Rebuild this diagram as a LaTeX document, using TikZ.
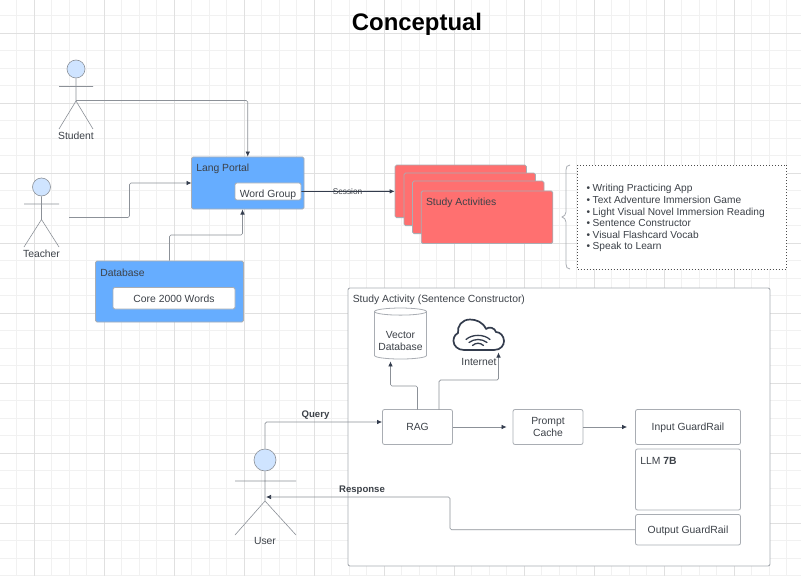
\documentclass[tikz,border=0pt]{standalone}
\usepackage{fontspec}
\setmainfont{Liberation Sans}
\usepackage{tikz}
\usetikzlibrary{arrows.meta,positioning,shapes.geometric}
\definecolor{gridminor}{HTML}{F1F1F1}
\definecolor{gridmajor}{HTML}{E0E0E0}
\definecolor{boxline}{HTML}{A9ADB3}
\definecolor{inkline}{HTML}{8C9198}
\definecolor{tipdark}{HTML}{333C4D}
\definecolor{txt}{HTML}{3C4148}
\definecolor{portalblue}{HTML}{66ADFF}
\definecolor{cardred}{HTML}{FF7070}
\definecolor{headblue}{HTML}{CFE4FF}
\newcommand{\actitem}[1]{\makebox[6bp][l]{\textbullet}#1}

\begin{document}
\begin{tikzpicture}[
  x=1bp, y=-1bp,
  every node/.style={font=\fontsize{10.4}{12}\selectfont, text=txt},
  title/.style={anchor=west, inner sep=0pt, xshift=5bp, yshift=-12.5bp},
  bluebox/.style={draw=boxline, rounded corners=1.5bp, fill=portalblue, line width=0.8bp},
  whitebox/.style={draw=boxline, rounded corners=2bp, fill=white, line width=0.8bp, align=center, inner sep=0pt},
  card/.style={draw=boxline, rounded corners=1.5bp, fill=cardred, line width=0.8bp, minimum width=131.5bp, minimum height=52.5bp},
  stepbox/.style={whitebox, minimum width=70bp, minimum height=35bp},
  railbox/.style={whitebox, minimum width=105bp, text depth=0pt},
  head/.style={circle, draw=inkline, fill=headblue, line width=0.6bp, inner sep=0pt},
  actor/.style={draw=inkline, line width=0.6bp},
  link/.style={draw=inkline, line width=0.7bp, rounded corners=1.5bp, -{Latex[length=5bp,width=4.5bp,color=tipdark]}}
]
\useasboundingbox (0,0) rectangle (801,576);
\fill[white] (0,0) rectangle (801,576);

% grid
\foreach \k in {0,...,45} {
  \pgfmathsetmacro{\gx}{16.5+17.5*\k}
  \draw[gridminor, line width=0.8bp] (\gx,0) -- (\gx,576);
}
\foreach \k in {0,...,32} {
  \pgfmathsetmacro{\gy}{15.5+17.5*\k}
  \draw[gridminor, line width=0.8bp] (0,\gy) -- (801,\gy);
}
\foreach \k in {0,...,11} {
  \pgfmathsetmacro{\gx}{34+70*\k}
  \draw[gridmajor, line width=0.8bp] (\gx,0) -- (\gx,576);
}
\foreach \k in {0,...,7} {
  \pgfmathsetmacro{\gy}{33+70*\k}
  \draw[gridmajor, line width=0.8bp] (0,\gy) -- (801,\gy);
}

\node[font=\bfseries\fontsize{24}{26}\selectfont, text=black] (heading) at (417,24) {Conceptual};

% actors
\node[head, minimum size=18bp] (student) at (76,69) {};
\draw[actor] (student.south) -- (76,101) -- (59,129) (76,101) -- (93,129) (59,86.5) -- (93,86.5);
\node (studentLabel) at (76,135.5) {Student};
\coordinate (studentHip) at (76,100.5);

\node[head, minimum size=18bp] (teacher) at (41.5,187) {};
\draw[actor] (teacher.south) -- (41.5,219.5) -- (24,247) (41.5,219.5) -- (59,247) (24,204) -- (59,204);
\node (teacherLabel) at (41.5,253.5) {Teacher};
\coordinate (teacherOut) at (69,217.5);

% portal and database
\node[bluebox, minimum width=112.5bp, minimum height=52bp] (portal) at (247.75,183) {};
\node[title] (portalTitle) at (portal.north west) {Lang Portal};
\node[whitebox, minimum width=66bp, minimum height=17bp] (wordgroup) at (268,191.5) {\raisebox{-6bp}[0pt][0pt]{Word Group}};

\node[bluebox, minimum width=148bp, minimum height=61bp] (database) at (169.5,291.5) {};
\node[title] (databaseTitle) at (database.north west) {Database};
\node[whitebox, minimum width=122bp, minimum height=21.5bp] (core) at (174,298.25) {\raisebox{-4.7bp}[0pt][0pt]{Core 2000 Words}};

\coordinate (portalLeft) at (191.5,183);
\coordinate (portalBottom) at (242.5,209.5);
\coordinate (teacherBend) at (129.5,183);
\coordinate (databaseBend) at (169.5,235);

\draw[link] (studentHip) -| (portal.north);
\draw[link] (teacherOut) -| (teacherBend) -- (portalLeft);
\draw[link] (database.north) -- (databaseBend) -| (portalBottom);

% study activities
\node[card] (cardA) at (460.75,191.35) {};
\node[card] (cardB) at (469.75,199.35) {};
\node[card] (cardC) at (478.25,207.35) {};
\node[card] (cardD) at (487,217.25) {};
\node[title] (cardTitle) at (cardD.north west) {Study Activities};

\draw[tipdark, line width=0.8bp, -{Latex[length=5bp,width=4.5bp]}] (wordgroup.east) -- (cardA.west);
\node[font=\fontsize{8.3}{10}\selectfont] (sessionLabel) at (347.5,192) {Session};

\draw[boxline, line width=0.8bp] (570,165) .. controls (567,165) and (566,167) .. (566,170)
  -- (566,212) .. controls (566,215) and (564,216) .. (562,217) .. controls (564,218) and (566,219) .. (566,222)
  -- (566,264) .. controls (566,267) and (567,269) .. (570,269);
\node[draw=black!70, dash pattern=on 1bp off 2bp, line width=0.8bp, fill=white, minimum width=209bp, minimum height=104bp] (activityList) at (682,217) {};
\node[anchor=west, align=left, font=\fontsize{10.2}{11.6}\selectfont, inner sep=0pt] (activityText) at (586.5,218.2) {%
  \actitem{Writing Practicing App}\\
  \actitem{Text Adventure Immersion Game}\\
  \actitem{Light Visual Novel Immersion Reading}\\
  \actitem{Sentence Constructor}\\
  \actitem{Visual Flashcard Vocab}\\
  \actitem{Speak to Learn}};

% sentence constructor
\node[draw=boxline, rounded corners=2bp, fill=white, line width=0.9bp, minimum width=422bp, minimum height=278bp] (shell) at (559,427) {};
\node[title] (shellTitle) at (shell.north west) {Study Activity (Sentence Constructor)};

\node[cylinder, shape border rotate=90, aspect=0.16, draw=boxline, fill=white, line width=0.8bp, minimum width=52bp, minimum height=51bp, inner sep=0pt] (vector) at (400.5,335.5) {\phantom{Database}};
\node[align=center, inner sep=0pt] (vectorLabel) at (400.5,341) {Vector\\Database};

% internet cloud
\draw[tipdark, line width=1.7bp, line join=round] (464,350) -- (494,350)
  .. controls (501,350) and (504,345) .. (504,341)
  .. controls (504,336) and (500,332) .. (496,332)
  .. controls (495,328) and (489,326) .. (486,329)
  .. controls (483,322) and (476,319.5) .. (470,319.5)
  .. controls (462,319.5) and (457,326) .. (458,333)
  .. controls (454,335) and (453.5,339) .. (453.5,341)
  .. controls (453.5,346) and (458,350) .. (464,350) -- cycle;
\draw[tipdark, line width=1.3bp, line cap=round] (466,339.5) .. controls (472,334) and (484,334) .. (490,339.5);
\draw[tipdark, line width=1.3bp, line cap=round] (469,342.5) .. controls (474,338.5) and (482,338.5) .. (487,342.5);
\draw[tipdark, line width=1.3bp, line cap=round] (472.5,345.5) .. controls (476,342.5) and (480,342.5) .. (483.5,345.5);
\node (internetLabel) at (479,361.5) {Internet};
\coordinate (cloudTip) at (498.5,352.5);
\coordinate (vectorTip) at ([xshift=-10bp,yshift=-2bp]vector.south);

\node[stepbox] (rag) at (417.5,427) {RAG};
\node[stepbox] (prompt) at (548,427) {Prompt\\Cache};
\node[railbox, minimum height=35bp] (input) at (688,427) {Input GuardRail};
\node[railbox, minimum height=61bp] (llm) at (688,479.5) {};
\node[title] (llmTitle) at (llm.north west) {LLM \textbf{7B}};
\node[railbox, minimum height=30.5bp] (output) at (688,529.75) {Output GuardRail};

\coordinate (ragLeft) at (417.5,409.5);
\coordinate (ragRight) at (439,409.5);
\coordinate (vectorBend) at (417.5,386);
\coordinate (cloudBend) at (439,380);

\draw[link] (ragLeft) -- (vectorBend) -| (vectorTip);
\draw[link] (ragRight) -- (cloudBend) -| (cloudTip);
\draw[link, shorten >=6bp] (rag.east) -- (prompt.west);
\draw[link, shorten >=8bp] (prompt.east) -- (input.west);

% user
\node[head, minimum size=22bp] (user) at (265,460) {};
\draw[actor] (user.south) -- (265,501) -- (235,535) (265,501) -- (296,535) (235,481) -- (296,481);
\node (userLabel) at (265,541) {User};

\coordinate (ragIn) at ([yshift=5bp]rag.west);
\coordinate (queryBend) at (265,422);
\coordinate (responseBend) at (450,497);
\coordinate (userHip) at (266,497);

\draw[link] (user.north) -- (queryBend) -- (ragIn);
\draw[link] (output.west) -| (responseBend) -- (userHip);
\node[font=\bfseries\fontsize{9.6}{11}\selectfont] (queryLabel) at (315.5,415) {Query};
\node[font=\bfseries\fontsize{9.6}{11}\selectfont] (responseLabel) at (362,490.5) {Response};
\end{tikzpicture}
\end{document}
